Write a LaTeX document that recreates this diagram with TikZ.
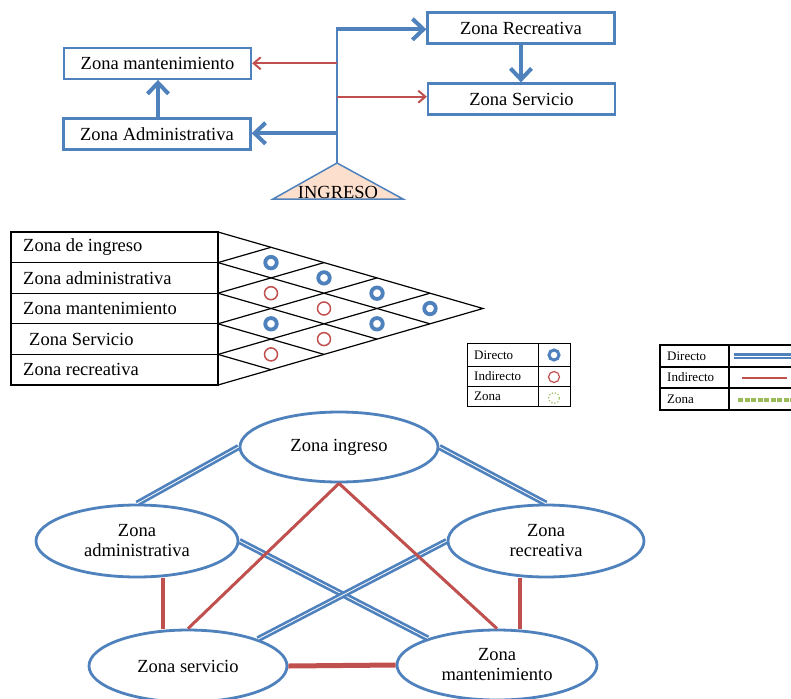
\documentclass[tikz,border=0pt]{standalone}
\usepackage{fontspec}
\setmainfont{Liberation Serif}
\usetikzlibrary{arrows.meta,shapes.geometric,calc}
\definecolor{bl}{HTML}{4F81BD}
\definecolor{rd}{HTML}{C0504D}
\definecolor{grn}{HTML}{9BBB59}
\definecolor{peach}{HTML}{FCE0CD}
\tikzset{
 big/.style={font=\fontsize{18.5}{20}\selectfont},
 small/.style={font=\fontsize{13}{15}\selectfont},
 zbox/.style={big, draw=bl, line width=2.3pt, minimum width=187pt, minimum height=31pt, inner sep=0pt},
 barrow/.style={draw=bl, line width=4pt, -{Straight Barb[length=11pt,width=21pt]}},
 rarrow/.style={draw=rd, line width=2pt, -{Straight Barb[length=7pt,width=12pt]}},
 mline/.style={draw=black, line width=1.2pt},
 rowlab/.style={big, anchor=west, inner sep=0pt},
 bcirc/.style={circle, draw=bl, line width=3.8pt, minimum size=11.5pt, inner sep=0pt},
 rcirc/.style={circle, draw=rd, line width=1.5pt, minimum size=13pt, inner sep=0pt},
 legtxt/.style={small, anchor=west, inner sep=0pt},
 gz/.style={ellipse, draw=bl, line width=2.8pt, big, align=center, inner sep=0pt},
 bdouble/.style={draw=bl, line width=2.7pt, double=white, double distance=0.8pt},
 rline/.style={draw=rd, line width=3pt},
 rthick/.style={draw=rd, line width=4pt}
}
\begin{document}
\begin{tikzpicture}[x=1pt,y=-1pt]
\useasboundingbox (0,0) rectangle (791,698);
\clip (0,0) rectangle (791,698);

% ---------- top diagram ----------
\node[zbox] (rec) at (521,28) {Zona Recreativa};
\node[zbox] (ser) at (521.5,99) {Zona Servicio};
\node[zbox] (man) at (157.5,63.3) {Zona mantenimiento};
\node[zbox] (adm) at (157,134) {Zona Administrativa};

\coordinate (apex) at (337,163);
\draw[draw=bl, fill=peach, line width=1.5pt] (apex) -- (273,199) -- (403,199) -- cycle;
\node[big, anchor=base, inner sep=0pt] (ingtxt) at (338,198.5) {INGRESO};
\coordinate (ttop) at (337,27.5);
\draw[bl, line width=2.5pt] (apex) -- (ttop);

\coordinate (j1) at (336,29.3);
\draw[barrow] (j1) -- (j1 -| rec.west);
\coordinate (j2) at (337,63.3);
\draw[rarrow] (j2) -- (j2 -| man.east);
\coordinate (j3) at (337,96.7);
\draw[rarrow] (j3) -- (j3 -| ser.west);
\coordinate (j4) at (338,133.3);
\draw[barrow] (j4) -- (j4 -| adm.east);
\draw[barrow] ([xshift=1pt]adm.north) -- ([xshift=1pt]adm.north |- man.south);
\draw[barrow] (rec.south) -- (rec.south |- ser.north);

% ---------- matrix ----------
\draw[mline] (11,232) rectangle (218,385);
\foreach \k in {1,...,4} {
  \draw[mline] (11,232+\k*30.6) -- (218,232+\k*30.6);
  \draw[mline] (218,232+\k*30.6) -- ++({(5-\k)*53},{(5-\k)*15.3});
  \draw[mline] (218,232+\k*30.6) -- ++({\k*53},{-\k*15.3});
}
\draw[mline] (218,232) -- (483,308.5) -- (218,385);

\node[rowlab] (r1) at (23,247.3) {Zona de ingreso};
\node[rowlab] (r2) at (23,277.9) {Zona administrativa};
\node[rowlab] (r3) at (23,308.5) {Zona mantenimiento};
\node[rowlab] (r4) at (29,339.1) {Zona Servicio};
\node[rowlab] (r5) at (23,369.7) {Zona recreativa};

\node[bcirc] (c12) at (271,262.6) {};
\node[bcirc] (c13) at (324,277.9) {};
\node[bcirc] (c14) at (377,293.2) {};
\node[bcirc] (c15) at (430,308.5) {};
\node[rcirc] (c23) at (271,293.2) {};
\node[rcirc] (c24) at (324,308.5) {};
\node[bcirc] (c25) at (377,323.8) {};
\node[bcirc] (c34) at (271,323.8) {};
\node[rcirc] (c35) at (324,339.1) {};
\node[rcirc] (c45) at (271,354.4) {};

% ---------- legend 1 ----------
\draw[line width=1pt] (467,343) rectangle (570,406);
\draw[line width=1pt] (467,366) -- (570,366);
\draw[line width=1pt] (467,386) -- (570,386);
\draw[line width=1pt] (538,343) -- (538,406);
\node[legtxt] (la1) at (474,355) {Directo};
\node[legtxt] (la2) at (474,376.5) {Indirecto};
\node[legtxt] (la3) at (474,396.5) {Zona};
\node[circle, draw=bl, line width=3pt, minimum size=10pt, inner sep=0pt] (lc1) at (554,355) {};
\node[circle, draw=rd, line width=1.2pt, minimum size=11pt, inner sep=0pt] (lc2) at (554,377) {};
\node[circle, draw=grn, line width=1.2pt, dotted, minimum size=11pt, inner sep=0pt] (lc3) at (554,398) {};

% ---------- legend 2 ----------
\draw[line width=1.6pt] (660,345) rectangle (800,410);
\draw[line width=1.6pt] (660,367) -- (800,367);
\draw[line width=1.6pt] (660,388) -- (800,388);
\draw[line width=1.6pt] (729,345) -- (729,410);
\node[legtxt] (lb1) at (667,356) {Directo};
\node[legtxt] (lb2) at (667,377.5) {Indirecto};
\node[legtxt] (lb3) at (667,399) {Zona};
\draw[bdouble] (734,356) -- (795,356);
\draw[draw=rd, line width=2.8pt] (742,378) -- (787,378);
\draw[draw=grn, line width=3.2pt, dash pattern=on 5pt off 1.5pt] (738,400) -- (795,400);

% ---------- graph ----------
\node[gz, minimum width=198pt, minimum height=70pt] (gi) at (339,447) {Zona ingreso};
\node[gz, minimum width=202pt, minimum height=72pt] (ga) at (137,541) {Zona\\administrativa};
\node[gz, minimum width=196pt, minimum height=72pt] (grc) at (546,541) {Zona\\recreativa};
\node[gz, minimum width=198pt, minimum height=72pt] (gs) at (188,666) {Zona servicio};
\node[gz, minimum width=200pt, minimum height=70pt] (gm) at (497,665) {Zona\\mantenimiento};

\draw[bdouble] (gi.west) -- (ga.north);
\draw[bdouble] (gi.east) -- (grc.north);
\draw[bdouble] (ga.east) -- (gm.159);
\draw[bdouble] (gs.21) -- (grc.west);
\draw[rline] (gi.south) -- (gs.north);
\draw[rline] (gi.south) -- (gm.north);
\draw[rthick] ([xshift=26pt]ga.south) -- ([xshift=26pt]ga.south |- gs.north);
\draw[rthick] ([xshift=-26pt]grc.south) -- ([xshift=-26pt]grc.south |- gm.north);
\draw[rthick, line width=5pt] (gs.east) -- (gm.west);
\end{tikzpicture}
\end{document}
